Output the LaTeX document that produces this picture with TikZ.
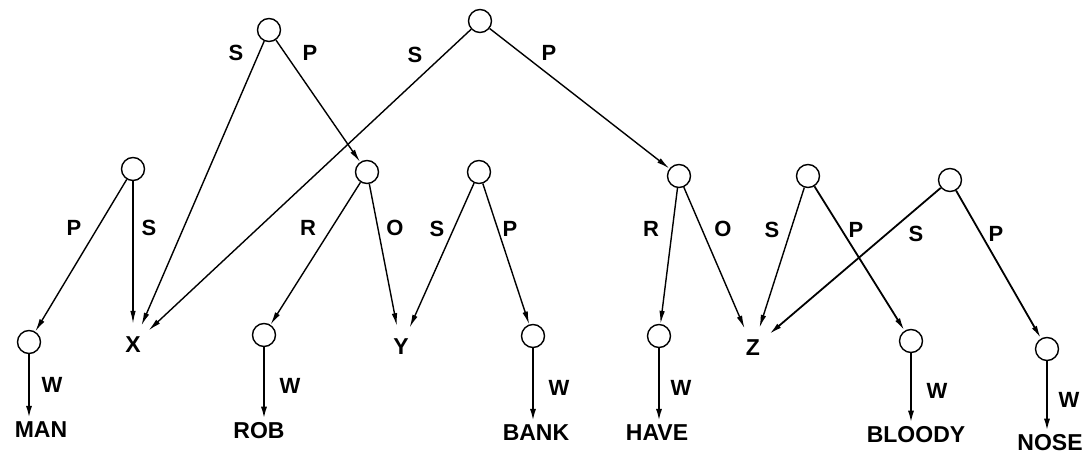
\documentclass[tikz,border=0pt]{standalone}
\usepackage{fontspec}
\setmainfont{Liberation Sans}
\usetikzlibrary{arrows.meta}
\tikzset{
  vtx/.style={circle, draw, line width=1.4pt, minimum size=23pt, inner sep=0pt},
  var/.style={circle, minimum size=42pt, inner sep=0pt, font=\fontsize{23}{23}\selectfont\bfseries},
  word/.style={inner sep=3pt, font=\fontsize{23}{23}\selectfont\bfseries},
  lab/.style={inner sep=0pt, font=\fontsize{22}{22}\selectfont\bfseries},
  edge/.style={line width=1.4pt, -{Latex[length=13pt,width=5.5pt]}},
  wedge/.style={line width=2.2pt, -{Latex[length=13pt,width=6pt]}},
}
\begin{document}
\begin{tikzpicture}[x=1pt,y=-1pt]
\useasboundingbox (0,0) rectangle (1087,457);
% internal nodes
\node[vtx] (A) at (480,21) {};
\node[vtx] (B) at (269,30) {};
\node[vtx] (C) at (133,169) {};
\node[vtx] (D) at (367,172) {};
\node[vtx] (E) at (479,172) {};
\node[vtx] (F) at (679,176) {};
\node[vtx] (G) at (808,176) {};
\node[vtx] (H) at (950,180) {};
% leaf circles
\node[vtx] (mc) at (29,342) {};
\node[vtx] (rc) at (264,335) {};
\node[vtx] (bc) at (533,336) {};
\node[vtx] (hc) at (659,336) {};
\node[vtx] (lc) at (911,341) {};
\node[vtx] (nc) at (1047,349) {};
% variables
\node[var] (X) at (133,345) {X};
\node[var] (Y) at (401,347) {Y};
\node[var] (Z) at (753,348) {Z};
% words
\node[word] (man) at (41,430) {MAN};
\node[word] (rob) at (259,431) {ROB};
\node[word] (bank) at (536,433) {BANK};
\node[word] (have) at (657,433) {HAVE};
\node[word] (bloody) at (916,435) {BLOODY};
\node[word] (nose) at (1050,443) {NOSE};
% edges
\draw[edge] (B) -- (X);
\draw[edge] (B) -- (D);
\draw[edge] (A) -- (X);
\draw[edge] (A) -- (F);
\draw[edge] (C) -- (mc);
\draw[edge] (C) -- (X);
\draw[edge] (D) -- (rc);
\draw[edge] (D) -- (Y);
\draw[edge] (E) -- (Y);
\draw[edge] (E) -- (bc);
\draw[edge] (F) -- (hc);
\draw[edge] (F) -- (Z);
\draw[edge] (G) -- (Z);
\draw[edge,line width=1.8pt] (G) -- (lc);
\draw[edge,line width=1.8pt] (H) -- (Z);
\draw[edge,line width=1.8pt] (H) -- (nc);
% W arrows
\draw[wedge] (mc) -- (mc |- man.north);
\draw[wedge] (rc) -- (rc |- rob.north);
\draw[wedge] (bc) -- (bc |- bank.north);
\draw[wedge] (hc) -- (hc |- have.north);
\draw[wedge] (lc) -- (lc |- bloody.north);
\draw[wedge] (nc) -- (nc |- nose.north);
% edge labels
\node[lab] (lBS) at (236,53) {S};
\node[lab] (lBP) at (310,53) {P};
\node[lab] (lAS) at (415,55) {S};
\node[lab] (lAP) at (549,53) {P};
\node[lab] (lCP) at (74,228) {P};
\node[lab] (lCS) at (149,228) {S};
\node[lab] (lDR) at (308,228) {R};
\node[lab] (lDO) at (395,228) {O};
\node[lab] (lES) at (437,229) {S};
\node[lab] (lEP) at (510,229) {P};
\node[lab] (lFR) at (651,229) {R};
\node[lab] (lFO) at (723,229) {O};
\node[lab] (lGS) at (772,230) {S};
\node[lab] (lGP) at (856,230) {P};
\node[lab] (lHS) at (916,234) {S};
\node[lab] (lHP) at (996,234) {P};
% W labels
\node[lab] (w1) at (52,385) {W};
\node[lab] (w2) at (290,386) {W};
\node[lab] (w3) at (559,388) {W};
\node[lab] (w4) at (681,388) {W};
\node[lab] (w5) at (937,391) {W};
\node[lab] (w6) at (1069,400) {W};
\end{tikzpicture}
\end{document}
